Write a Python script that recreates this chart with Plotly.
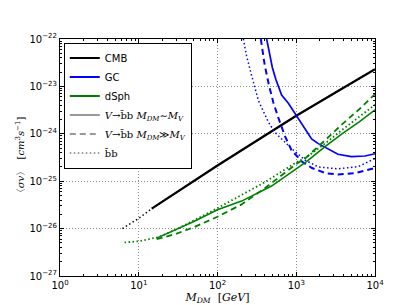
import plotly.graph_objects as go

# ---- data (x: M_DM in GeV, y: <sigma v> in cm^3/s) ----
cmb_x = [14.6, 30, 100, 300, 1000, 3000, 10000]
cmb_y = [2.63e-26, 5.8e-26, 2.14e-25, 6.8e-25, 2.4e-24, 7.1e-24, 2.3e-23]
cmb_bb_x = [6.2, 10, 14.6, 30, 100, 300, 1000, 3000, 10000]
cmb_bb_y = [1.0e-26, 1.65e-26, 2.63e-26, 5.8e-26, 2.14e-25, 6.8e-25, 2.4e-24, 7.1e-24, 2.3e-23]

gc_sim_x = [421, 457, 497, 550, 592, 652, 794, 1012, 1288, 1567, 1905, 2344, 3388, 5012, 7464, 10000]
gc_sim_y = [1.0e-22, 5.0e-23, 2.5e-23, 1.41e-23, 9.8e-24, 6.6e-24, 4.4e-24, 2.34e-24,
            1.26e-24, 7.8e-25, 6.2e-25, 5.1e-25, 3.7e-25, 3.3e-25, 3.4e-25, 3.8e-25]
gc_gg_x = [355, 398, 447, 513, 589, 719, 871, 1175, 1585, 2344, 3388, 5623, 10000]
gc_gg_y = [1.0e-22, 2.8e-23, 1.12e-23, 4.5e-24, 2.24e-24, 8.9e-25, 4.5e-25, 2.6e-25,
           1.9e-25, 1.48e-25, 1.38e-25, 1.48e-25, 1.9e-25]
gc_bb_x = [213, 234, 269, 295, 331, 442, 525, 592, 871, 1288, 1905, 3388, 6166, 10000]
gc_bb_y = [1.0e-22, 4.4e-23, 1.78e-23, 1.0e-23, 5.0e-24, 1.78e-24, 1.12e-24, 9.1e-25,
           4.9e-25, 2.8e-25, 2.0e-25, 1.82e-25, 2.04e-25, 3.0e-25]

dsph_sim_x = [16.9, 28.8, 50, 100, 202, 486, 1000, 1349, 2344, 3802, 6310, 10000]
dsph_sim_y = [6.3e-27, 9.3e-27, 1.41e-26, 2.5e-26, 3.8e-26, 7.9e-26, 1.86e-25, 2.6e-25,
              5.4e-25, 1.0e-24, 1.78e-24, 3.2e-24]
dsph_gg_x = [16.9, 28.8, 50, 100, 200, 398, 977, 1349, 2344, 3802, 6310, 10000]
dsph_gg_y = [6.0e-27, 7.6e-27, 1.07e-26, 1.78e-26, 3.2e-26, 7.1e-26, 2.24e-25, 3.2e-25,
             7.4e-25, 1.58e-24, 3.3e-24, 6.9e-24]
dsph_bb_x = [6.6, 10, 17.8, 31.6, 100, 398, 1000, 1349, 2344, 3802, 10000]
dsph_bb_y = [5.1e-27, 5.4e-27, 6.6e-27, 1.0e-26, 2.7e-26, 9.5e-26, 2.5e-25, 3.2e-25,
             6.3e-25, 1.2e-24, 4.1e-24]

x_ticks = [1, 10, 100, 1000, 10000]
x_ticktext = ["10<sup>0</sup>", "10<sup>1</sup>", "10<sup>2</sup>", "10<sup>3</sup>", "10<sup>4</sup>"]
y_ticks = [1e-27, 1e-26, 1e-25, 1e-24, 1e-23, 1e-22]
y_ticktext = ["10<sup>−27</sup>", "10<sup>−26</sup>", "10<sup>−25</sup>",
              "10<sup>−24</sup>", "10<sup>−23</sup>", "10<sup>−22</sup>"]

BLACK = "#000000"
BLUE = "#0000ff"
GREEN = "#008000"
GREY = "#999999"
SERIF = "DejaVu Serif"
DASH = "6px,4px"
DOT = "1.5px,2.5px"

fig = go.Figure()

def line(x, y, color, dash, width):
    fig.add_trace(go.Scatter(x=x, y=y, mode="lines", showlegend=False,
                             line=dict(color=color, dash=dash, width=width),
                             hoverinfo="skip"))

line(cmb_bb_x, cmb_bb_y, BLACK, DOT, 1.5)
line(cmb_x, cmb_y, BLACK, "solid", 2.2)
line(gc_bb_x, gc_bb_y, BLUE, DOT, 1.5)
line(gc_gg_x, gc_gg_y, BLUE, DASH, 2)
line(gc_sim_x, gc_sim_y, BLUE, "solid", 1.7)
line(dsph_bb_x, dsph_bb_y, GREEN, DOT, 1.8)
line(dsph_gg_x, dsph_gg_y, GREEN, DASH, 1.8)
line(dsph_sim_x, dsph_sim_y, GREEN, "solid", 1.6)

def leg(name, color, dash):
    fig.add_trace(go.Scatter(x=[None], y=[None], mode="lines", name=name,
                             line=dict(color=color, dash=dash, width=2)))

leg("CMB", BLACK, "solid")
leg("GC", BLUE, "solid")
leg("dSph", GREEN, "solid")
leg(f"<span style='font-family:{SERIF}'><i>V</i>→b̄b <i>M</i><sub><i>DM</i></sub>∼<i>M</i><sub><i>V</i></sub></span>",
    GREY, "solid")
leg(f"<span style='font-family:{SERIF}'><i>V</i>→b̄b <i>M</i><sub><i>DM</i></sub>≫<i>M</i><sub><i>V</i></sub></span>",
    GREY, DASH)
leg(f"<span style='font-family:{SERIF}'>b̄b</span>", GREY, DOT)

axis_common = dict(
    type="log", showline=True, linecolor="black", linewidth=1, mirror="allticks",
    ticks="inside", ticklen=4, tickcolor="black", tickwidth=1,
    showgrid=True, gridcolor="#8a8a8a", griddash="1px,2px", gridwidth=1,
    zeroline=False, tickfont=dict(family="DejaVu Sans", size=10, color="black"),
    minor=dict(ticks="inside", ticklen=2, tickcolor="black", dtick="D1", showgrid=False),
)

fig.update_layout(
    width=407, height=305,
    margin=dict(l=52, r=40, t=31, b=31),
    paper_bgcolor="white", plot_bgcolor="white",
    xaxis=dict(axis_common, range=[0, 4], tickmode="array", tickvals=x_ticks, ticktext=x_ticktext,
               title=dict(text="<i>M</i><sub><i>DM</i></sub>  [<i>GeV</i>]",
                          font=dict(family=SERIF, size=11, color="black"), standoff=2)),
    yaxis=dict(axis_common, range=[-27, -22], tickmode="array", tickvals=y_ticks, ticktext=y_ticktext,
               title=dict(text="〈<i>σv</i>〉  [<i>cm</i><sup>3</sup><i>s</i><sup>−1</sup>]",
                          font=dict(family=SERIF, size=10, color="black"), standoff=2)),
    legend=dict(x=0.012, y=0.985, xanchor="left", yanchor="top",
                bgcolor="white", bordercolor="black", borderwidth=1,
                font=dict(family="DejaVu Sans", size=10, color="black"),
                itemwidth=30, tracegroupgap=0),
)

fig.write_html("out.html")
